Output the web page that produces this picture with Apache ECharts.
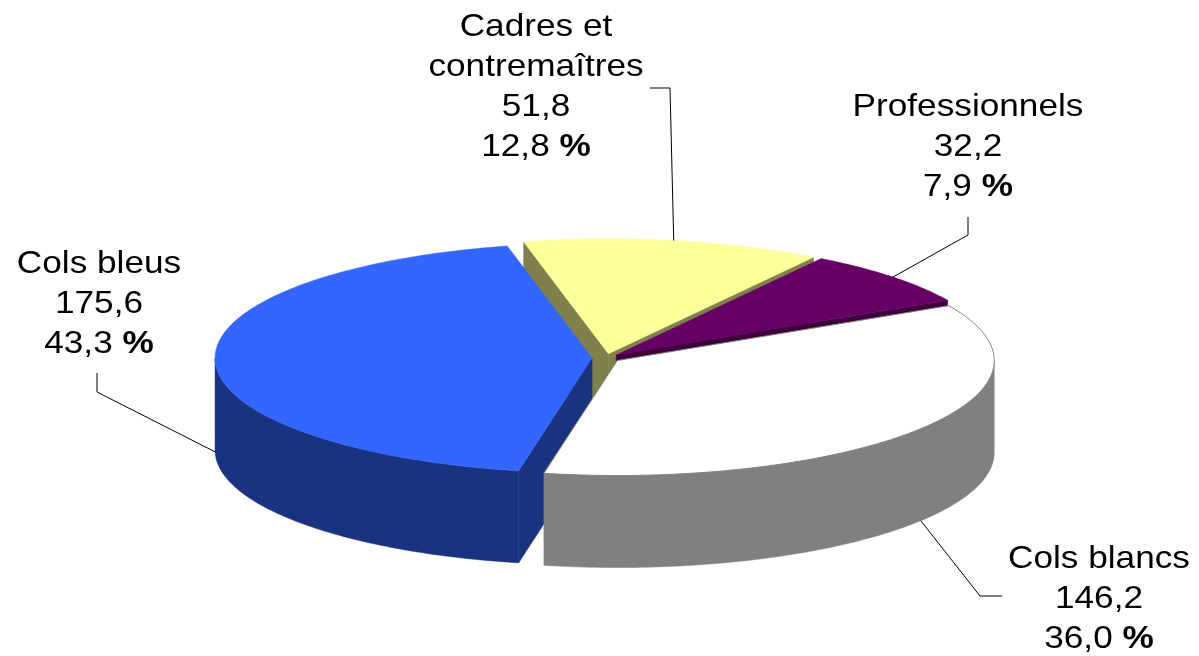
<!DOCTYPE html>
<html>
<head>
<meta charset="utf-8">
<script src="https://cdn.jsdelivr.net/npm/echarts@6/dist/echarts.min.js"></script>
<style>
html,body{margin:0;padding:0;background:#fff;}
#chart{width:1199px;height:656px;}
</style>
</head>
<body>
<div id="chart"></div>
<script>
// ---- data ----
const categories = ['Cadres et\ncontremaîtres', 'Professionnels', 'Cols blancs', 'Cols bleus'];
const values = [51.8, 32.2, 146.2, 175.6];

// ---- styles ----
const topColors = ['#FFFF99', '#660066', '#FFFFFF', '#3366FF'];
const sideColors = ['#80804D', '#3D003D', '#808080', '#1A3380'];
const edgeColors = [null, null, '#808080', null];

// ---- layout ----
const START = -13;            // first slice angle (deg, clockwise from 12 o'clock)
const GEO = { cx: 606, cy: 358, rx: 377, ry: 115, depth: 92, explode: 0.037 };
const FONT_SIZE = 32, LINE_H = 40, TEXT_SCALE_X = 1.1;
const FONT_FAMILY = '"Liberation Sans", Arial, sans-serif';
// label center x, first baseline y, leader knee points (from label side)
const labelLayout = [
  { x: 536, y0: 38,  knee: [[650, 88], [670, 88]] },
  { x: 968, y0: 118, knee: [[968, 217], [968, 235]] },
  { x: 1099, y0: 570, knee: [[1002, 596], [980, 596]] },
  { x: 99,  y0: 275, knee: [[97, 373], [97, 392]] }
];

const total = values.reduce((s, v) => s + v, 0);
let acc = START;
const slices = values.map(v => {
  const s = acc, e = acc + v / total * 360;
  acc = e;
  return { s, e, m: (s + e) / 2 };
});
const rad = d => d * Math.PI / 180;
// back-to-front draw rank
const rankOrder = slices.map((sl, i) => i).sort((a, b) => Math.cos(rad(slices[b].m)) - Math.cos(rad(slices[a].m)));
const drawRank = [];
rankOrder.forEach((idx, r) => { drawRank[idx] = r; });

const fmt = v => v.toFixed(1).replace('.', ',');

function renderItem(params, api) {
  const i = params.dataIndex;
  const sl = slices[i];
  const v = api.value(0);
  const ox = GEO.explode * GEO.rx * Math.sin(rad(sl.m));
  const oy = -GEO.explode * GEO.ry * Math.cos(rad(sl.m));
  const cx = GEO.cx + ox, cy = GEO.cy + oy;
  const D = GEO.depth;
  const P = (t, dz) => [cx + GEO.rx * Math.sin(rad(t)), cy - GEO.ry * Math.cos(rad(t)) + (dz || 0)];
  const arc = (t1, t2, dz) => {
    const n = Math.max(2, Math.ceil(Math.abs(t2 - t1)));
    const pts = [];
    for (let k = 0; k <= n; k++) pts.push(P(t1 + (t2 - t1) * k / n, dz));
    return pts;
  };
  const base = drawRank[i] * 10;
  const children = [];
  // radial cut faces
  [[sl.s, -1], [sl.e, 1]].forEach(([t, dir]) => {
    const n = t + dir * 90;
    if (Math.cos(rad(n)) < 0) {
      const e = P(t);
      children.push({
        type: 'polygon',
        shape: { points: [[cx, cy], e, [e[0], e[1] + D], [cx, cy + D]] },
        style: { fill: sideColors[i], stroke: sideColors[i], lineWidth: 0.5 },
        z2: base
      });
    }
  });
  // outer wall (front half only)
  for (let k = -1; k <= 1; k++) {
    const lo = Math.max(sl.s, 90 + 360 * k), hi = Math.min(sl.e, 270 + 360 * k);
    if (hi > lo) {
      const pts = arc(lo, hi, 0).concat(arc(hi, lo, D));
      children.push({
        type: 'polygon',
        shape: { points: pts },
        style: { fill: sideColors[i], stroke: sideColors[i], lineWidth: 0.5 },
        z2: base + 1
      });
    }
  }
  // top face
  children.push({
    type: 'polygon',
    shape: { points: [[cx, cy]].concat(arc(sl.s, sl.e, 0)) },
    style: edgeColors[i]
      ? { fill: topColors[i], stroke: edgeColors[i], lineWidth: 1 }
      : { fill: topColors[i], stroke: topColors[i], lineWidth: 0.5 },
    z2: base + 2
  });
  // label
  const L = labelLayout[i];
  const end = Math.cos(rad(sl.m)) < 0 ? P(sl.m, D) : P(sl.m, 0);
  children.push({
    type: 'polyline',
    shape: { points: L.knee.concat([end]) },
    style: { stroke: '#000', lineWidth: 1, fill: null },
    z2: 100
  });
  const lines = categories[i].split('\n').concat([fmt(v), fmt(v / total * 100) + ' {p|%}']);
  lines.forEach((ln, j) => {
    children.push({
      type: 'text',
      x: L.x,
      y: L.y0 + j * LINE_H - 11,
      scaleX: TEXT_SCALE_X,
      style: {
        text: ln,
        fill: '#000',
        fontSize: FONT_SIZE,
        fontFamily: FONT_FAMILY,
        align: 'center',
        verticalAlign: 'middle',
        rich: { p: { fontSize: FONT_SIZE, fontFamily: FONT_FAMILY, fontWeight: 'bold', fill: '#000' } }
      },
      z2: 101
    });
  });
  return { type: 'group', children };
}

const chart = echarts.init(document.getElementById('chart'), null, { renderer: 'canvas' });
chart.setOption({
  backgroundColor: '#ffffff',
  animation: false,
  series: [{
    type: 'custom',
    coordinateSystem: 'none',
    silent: true,
    renderItem: renderItem,
    data: values.map((v, i) => ({ name: categories[i], value: [v] }))
  }]
});
</script>
</body>
</html>
